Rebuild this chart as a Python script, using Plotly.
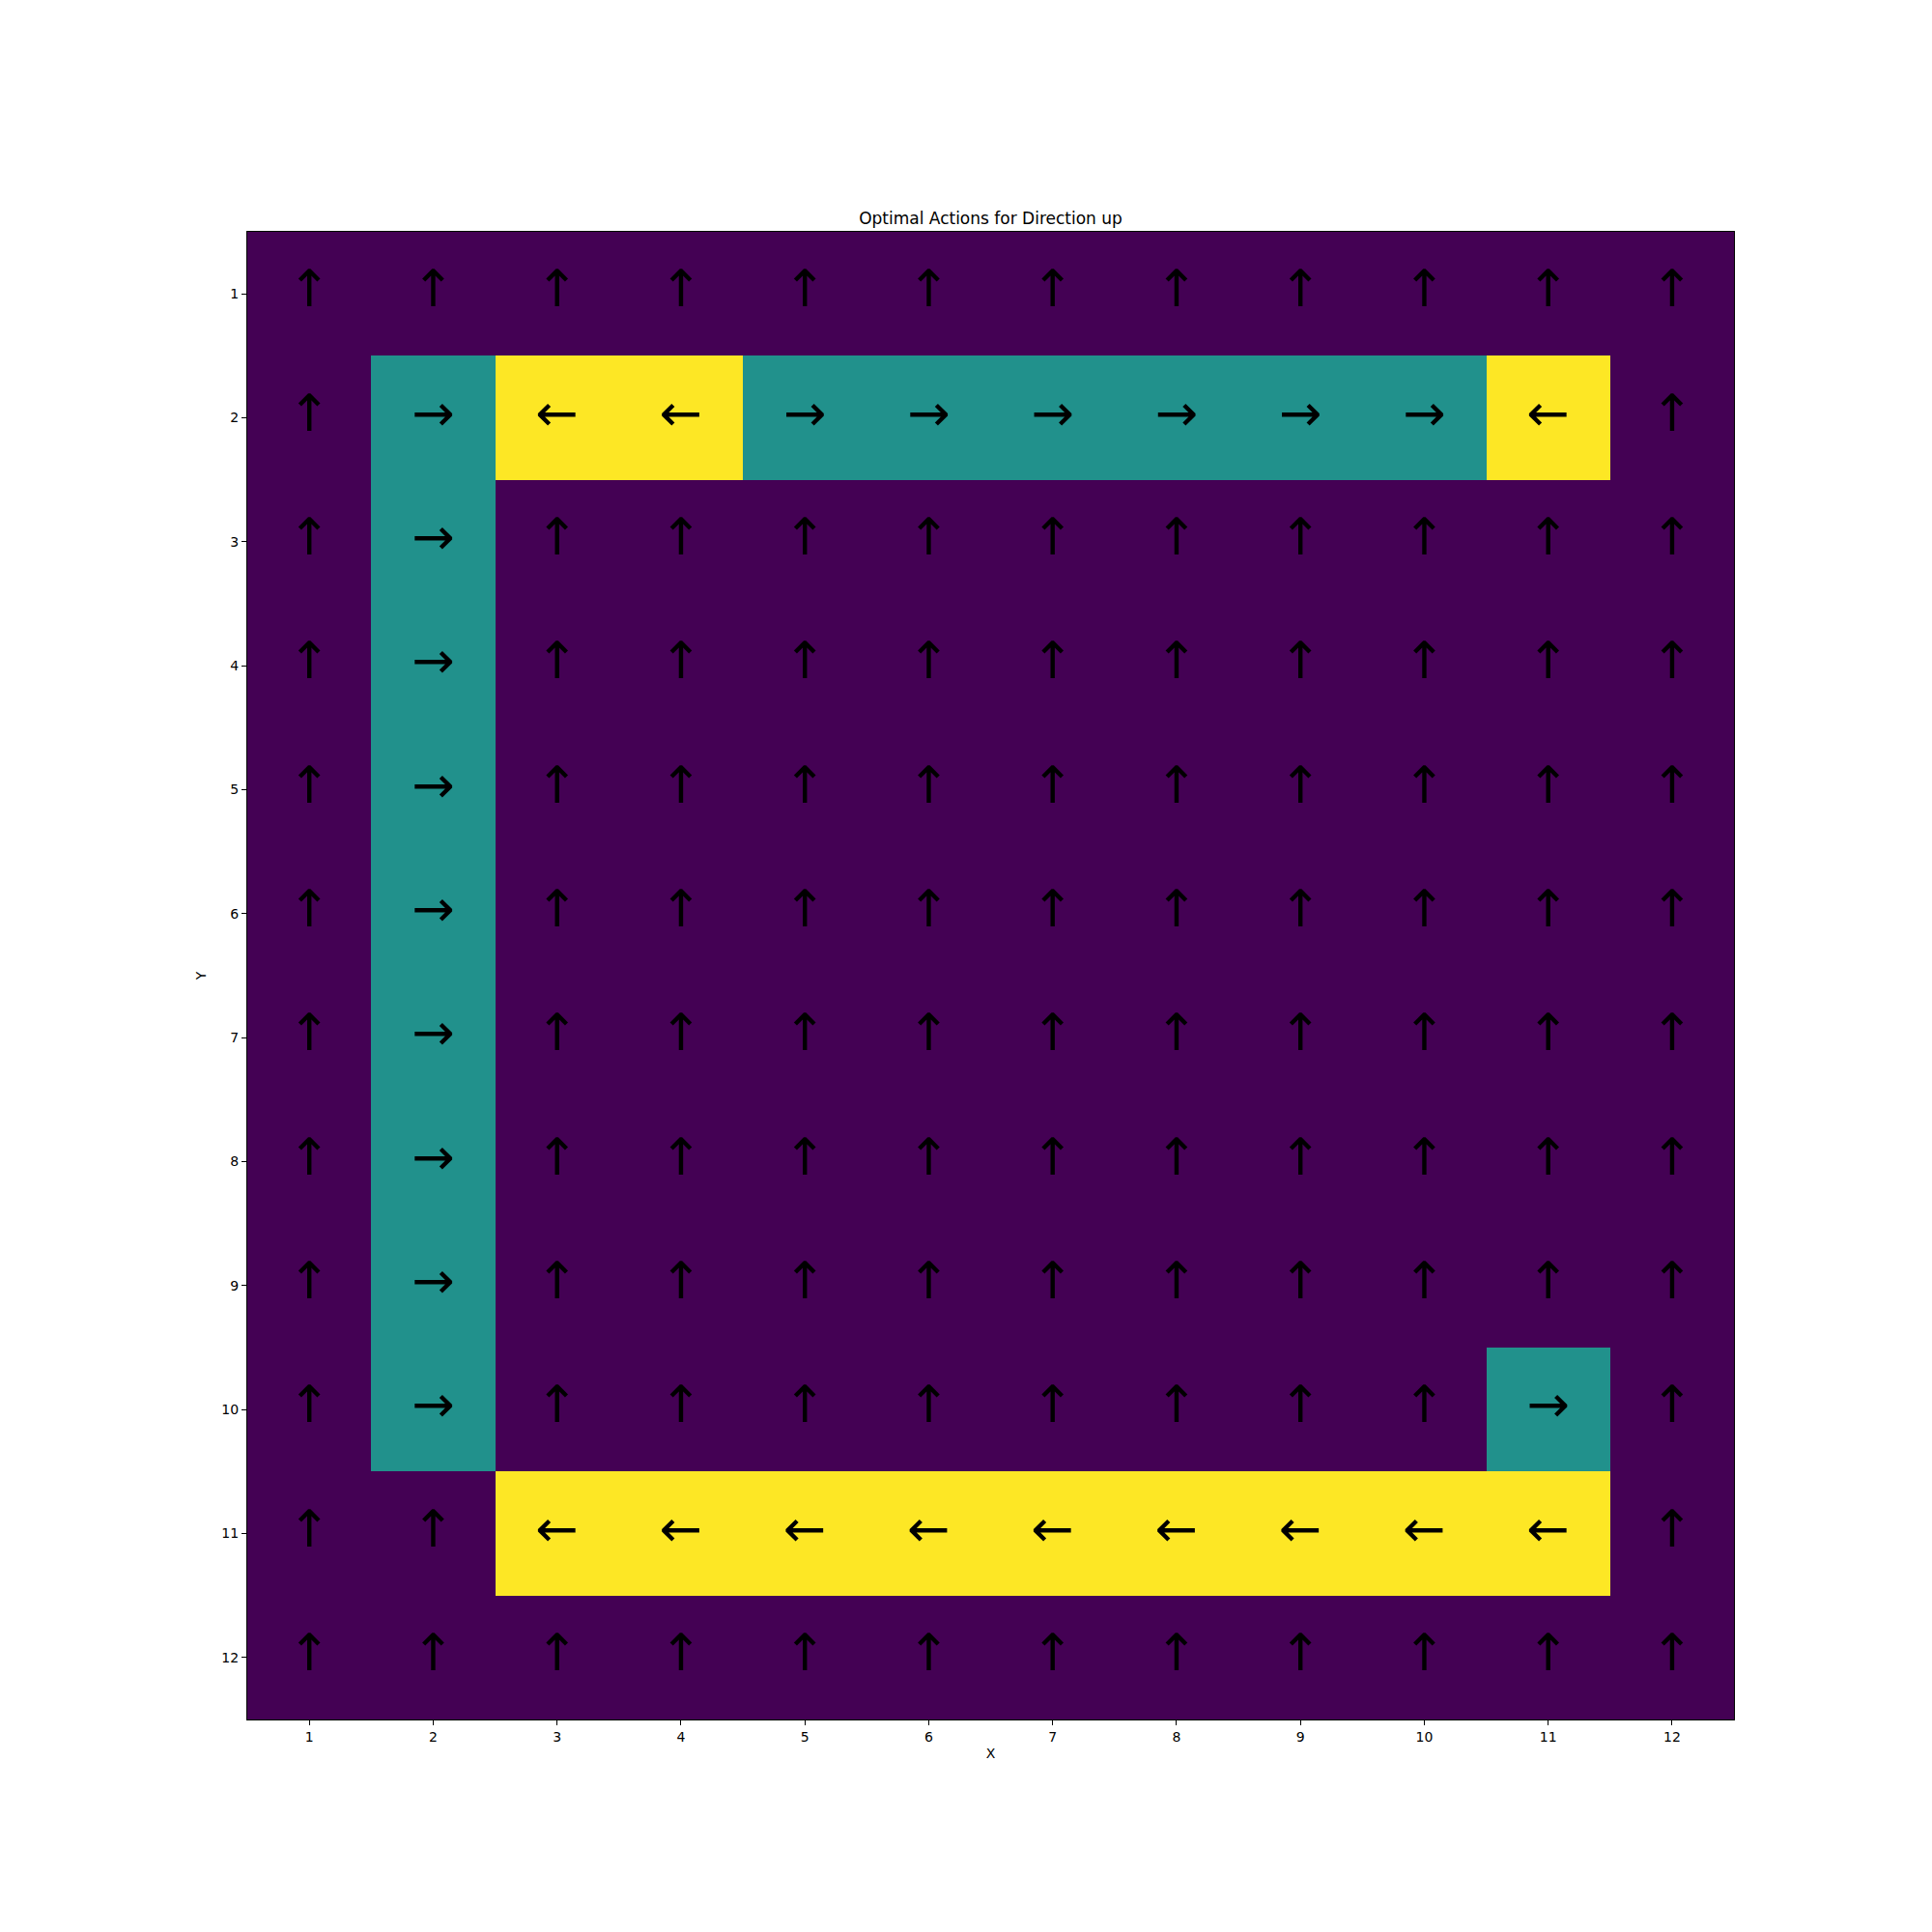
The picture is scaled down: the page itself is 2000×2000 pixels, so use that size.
import plotly.graph_objects as go

x_vals = list(range(1, 13))
y_vals = list(range(1, 13))

# actions per row (Y = 1..12), columns X = 1..12 ; U=up, R=right, L=left
row_actions = [
    "UUUUUUUUUUUU",
    "URLLRRRRRRLU",
    "URUUUUUUUUUU",
    "URUUUUUUUUUU",
    "URUUUUUUUUUU",
    "URUUUUUUUUUU",
    "URUUUUUUUUUU",
    "URUUUUUUUUUU",
    "URUUUUUUUUUU",
    "URUUUUUUUURU",
    "UULLLLLLLLLU",
    "UUUUUUUUUUUU",
]
action_value = {"U": 0, "R": 1, "L": 2}
action_arrow = {"U": "↑", "R": "→", "L": "←"}

z = [[action_value[a] for a in row] for row in row_actions]

tx, ty, tt = [], [], []
for yi, row in zip(y_vals, row_actions):
    for xi, a in zip(x_vals, row):
        tx.append(xi)
        ty.append(yi)
        tt.append(action_arrow[a])

fig = go.Figure()
fig.add_trace(go.Heatmap(
    x=x_vals, y=y_vals, z=z, zmin=0, zmax=2,
    colorscale=[[0, "#440154"], [0.5, "#21918c"], [1, "#fde725"]],
    showscale=False, hoverinfo="skip",
))
fig.add_trace(go.Scatter(
    x=tx, y=ty, text=tt, mode="text",
    textfont=dict(family="DejaVu Sans", size=53, color="black"),
    textposition="middle center", hoverinfo="skip", showlegend=False,
))

axis_common = dict(
    showgrid=False, zeroline=False, showline=True, linecolor="black", linewidth=1.3,
    mirror=True, ticks="outside", ticklen=5, tickwidth=1, tickcolor="black",
    tickfont=dict(family="DejaVu Sans", size=14, color="black"),
    tickmode="array", tickvals=x_vals, ticktext=[str(v) for v in x_vals],
)
fig.update_layout(
    width=2000, height=2000,
    margin=dict(l=256, r=205, t=240, b=220),
    paper_bgcolor="white", plot_bgcolor="white",
    showlegend=False,
    title=dict(text="Optimal Actions for Direction up", x=0.5, xanchor="center",
               xref="paper", y=1, yref="paper", yanchor="bottom", pad=dict(b=8),
               font=dict(family="DejaVu Sans", size=17, color="black")),
    xaxis=dict(axis_common, range=[0.5, 12.5],
               title=dict(text="X", font=dict(family="DejaVu Sans", size=14, color="black"), standoff=5)),
    yaxis=dict(axis_common, range=[12.5, 0.5],
               title=dict(text="Y", font=dict(family="DejaVu Sans", size=14, color="black"), standoff=12)),
)
fig.write_html("out.html")
